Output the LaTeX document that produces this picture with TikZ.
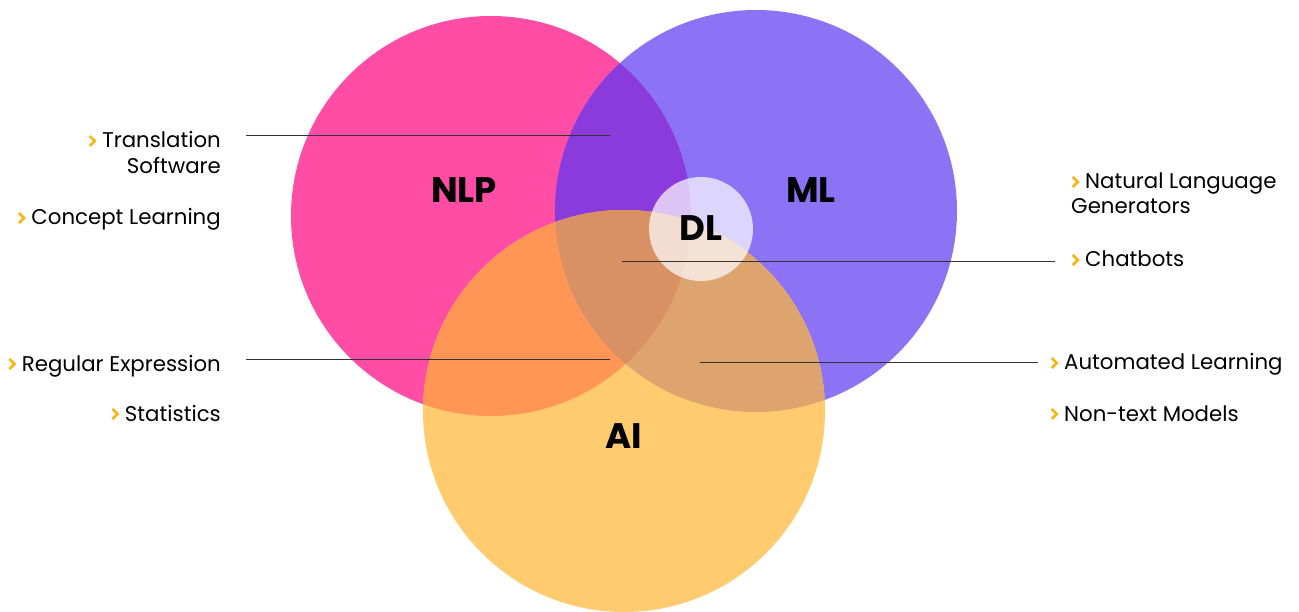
\documentclass[tikz,border=0pt]{standalone}
\usepackage{fontspec}
\setmainfont{Poppins}
\begin{document}
\begin{tikzpicture}[x=1pt,y=-1pt,
  lbl/.style={font=\fontsize{21.3}{26}\selectfont, text=black, inner sep=0pt},
  big/.style={font=\fontsize{35.5}{36}\selectfont\bfseries, text=black, inner sep=0pt},
  leader/.style={draw=black!80, line width=0.9pt}]
\definecolor{cnlp}{HTML}{FF4DA6}
\definecolor{cml}{HTML}{8C73F6}
\definecolor{cai}{HTML}{FFCB6E}
\definecolor{cnm}{HTML}{8B3BDB}
\definecolor{cna}{HTML}{FF9655}
\definecolor{cma}{HTML}{DDA470}
\definecolor{cnma}{HTML}{DA9065}
\definecolor{cbul}{HTML}{FDB515}
\newcommand{\bul}{\tikz[x=1pt,y=1pt,baseline=0pt]{\useasboundingbox (0,0) rectangle (8,12);\draw[cbul,line width=2.6pt,line join=miter] (1.5,12) -- (6.5,7) -- (1.5,2);}\hspace{6pt}}
\useasboundingbox (0,0) rectangle (1299,612);
\def\nlp{(491,216) circle[radius=200]}
\def\ml{(756,211) circle[radius=201]}
\def\ai{(624,411) circle[radius=201]}
\fill[cnlp] \nlp;
\fill[cml] \ml;
\fill[cai] \ai;
\begin{scope}\clip \nlp; \fill[cnm] \ml; \end{scope}
\begin{scope}\clip \nlp; \fill[cna] \ai; \end{scope}
\begin{scope}\clip \ml; \fill[cma] \ai; \end{scope}
\begin{scope}\clip \nlp; \clip \ml; \fill[cnma] \ai; \end{scope}
\fill[white, fill opacity=0.7] (701,229) circle[radius=52];
% big labels
\node[big] (nlp) at (464,190) {NLP};
\node[big] (ml) at (811,190) {ML};
\node[big] (ai) at (624,436) {AI};
\node[big] (dl) at (701,228) {DL};
% leader coordinates
\coordinate (t1) at (246,135); \coordinate (t2) at (610,135);
\coordinate (r1) at (246,359); \coordinate (r2) at (610,359);
\coordinate (c1) at (622,261); \coordinate (c2) at (1055,261);
\coordinate (a1) at (700,362); \coordinate (a2) at (1038,362);
\draw[leader] (t1) -- (t2);
\draw[leader] (r1) -- (r2);
\draw[leader] (c1) -- (c2);
\draw[leader] (a1) -- (a2);
% left texts
\node[lbl, anchor=base east, align=right] (trans) at (221,174) {\bul Translation\\Software};
\node[lbl, anchor=base east] (concept) at (221,225) {\bul Concept Learning};
\node[lbl, anchor=base east] (regex) at (221,371) {\bul Regular Expression};
\node[lbl, anchor=base east] (stats) at (221,421) {\bul Statistics};
% right texts
\node[lbl, anchor=base west, align=left, font=\fontsize{21.3}{25}\selectfont] (nlg) at (1071,214) {\bul Natural Language\\Generators};
\node[lbl, anchor=base west] (chat) at (1071,267) {\bul Chatbots};
\node[lbl, anchor=base west] (auto) at (1050,370) {\bul Automated Learning};
\node[lbl, anchor=base west] (nontext) at (1050,421) {\bul Non-text Models};
\end{tikzpicture}
\end{document}
